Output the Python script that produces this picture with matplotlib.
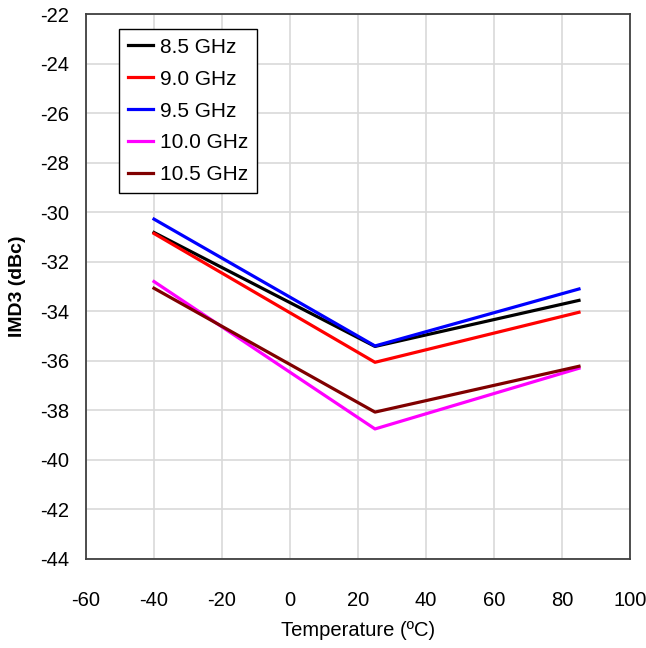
import matplotlib
matplotlib.use('Agg')
import matplotlib.pyplot as plt

temps = [-40, 25, 85]
labels = ['8.5 GHz', '9.0 GHz', '9.5 GHz', '10.0 GHz', '10.5 GHz']
colors = ['black', 'red', 'blue', 'magenta', '#800000']
imd3_85 = [-30.82, -35.42, -33.56]
imd3_90 = [-30.86, -36.06, -34.04]
imd3_95 = [-30.28, -35.40, -33.10]
imd3_100 = [-32.80, -38.75, -36.30]
imd3_105 = [-33.07, -38.07, -36.22]
series = [imd3_85, imd3_90, imd3_95, imd3_100, imd3_105]

plt.rcParams['font.family'] = ['Liberation Sans', 'DejaVu Sans']
plt.rcParams['axes.unicode_minus'] = False

fig = plt.figure(figsize=(6.46, 6.48), dpi=100)
ax = fig.add_axes([86 / 646, 1 - 559 / 648, 544 / 646, 545 / 648])

for vals, lab, c in zip(series, labels, colors):
    ax.plot(temps, vals, color=c, lw=2.3, label=lab)

ax.set_xlim(-60, 100)
ax.set_ylim(-44, -22)
ax.set_xticks(range(-60, 101, 20))
ax.set_yticks(range(-44, -21, 2))
ax.grid(True, color='#d9d9d9', lw=1.2)
ax.set_axisbelow(True)
ax.tick_params(length=0, labelsize=14.5)
ax.tick_params(axis='x', pad=23)
ax.tick_params(axis='y', pad=12)

for s in ax.spines.values():
    s.set_color('#404040')
    s.set_linewidth(1.3)

ax.set_xlabel('Temperature (ºC)', fontsize=14.5, labelpad=8)
ax.set_ylabel('IMD3 (dBc)', fontsize=14, fontweight='bold', labelpad=10)

leg = ax.legend(loc='upper left', bbox_to_anchor=(33 / 544, 530 / 545), fontsize=15,
                frameon=True, fancybox=False, edgecolor='black', framealpha=1,
                handlelength=1.2, handletextpad=0.35, labelspacing=0.62,
                borderpad=0.42, borderaxespad=0)
leg.get_frame().set_linewidth(1.0)

fig.savefig('out.png', dpi=100)
